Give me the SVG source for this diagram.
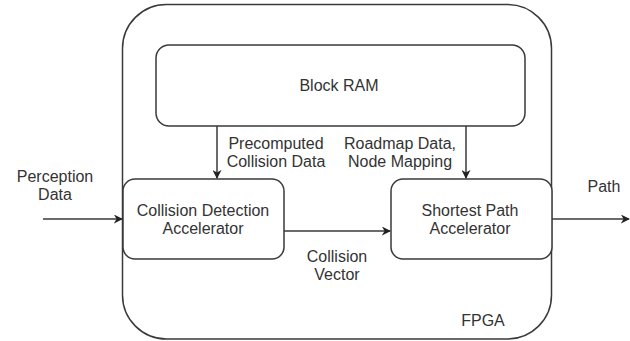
<svg xmlns="http://www.w3.org/2000/svg" width="630" height="341" viewBox="0 0 630 341">
<defs>
<marker id="ah" viewBox="0 0 10 10" refX="9" refY="5" markerWidth="9" markerHeight="9" orient="auto" markerUnits="userSpaceOnUse">
<path d="M0,0 L10,5 L0,10 L3,5 Z" fill="#222"/>
</marker>
<style>
.box{fill:#fff;stroke:#3a3a3a;stroke-width:1.5}
.edge{fill:none;stroke:#3a3a3a;stroke-width:1.5;marker-end:url(#ah)}
text{font-family:"Liberation Sans",Arial,sans-serif;font-size:16px;fill:#333;text-anchor:middle}
</style>
</defs>
<rect width="630" height="341" fill="#fff"/>
<g id="fpga">
<rect class="box" x="122.5" y="4.5" width="429" height="334.5" rx="44" ry="44"/>
<text x="483" y="326">FPGA</text>
</g>
<g id="blockram">
<rect class="box" x="156" y="45" width="369" height="81" rx="13" ry="13"/>
<text x="339" y="91">Block RAM</text>
</g>
<g id="cda">
<rect class="box" x="123" y="179" width="161" height="80" rx="12" ry="12"/>
<text x="203" y="216">Collision Detection</text>
<text x="203" y="234">Accelerator</text>
</g>
<g id="spa">
<rect class="box" x="391" y="179" width="161" height="80" rx="12" ry="12"/>
<text x="470" y="216">Shortest Path</text>
<text x="470" y="234">Accelerator</text>
</g>
<g id="connectors">
<line class="edge" x1="43" y1="219" x2="122" y2="219"/>
<line class="edge" x1="552" y1="219" x2="629" y2="219"/>
<line class="edge" x1="284" y1="231" x2="390" y2="231"/>
<line class="edge" x1="217" y1="126" x2="217" y2="178"/>
<line class="edge" x1="466" y1="126" x2="466" y2="178"/>
</g>
<g id="labels">
<text x="55" y="182">Perception</text>
<text x="55" y="200">Data</text>
<text x="604" y="192">Path</text>
<text x="276" y="149">Precomputed</text>
<text x="276" y="167">Collision Data</text>
<text x="400" y="149">Roadmap Data,</text>
<text x="400" y="167">Node Mapping</text>
<text x="337" y="262">Collision</text>
<text x="337" y="280">Vector</text>
</g>
</svg>
